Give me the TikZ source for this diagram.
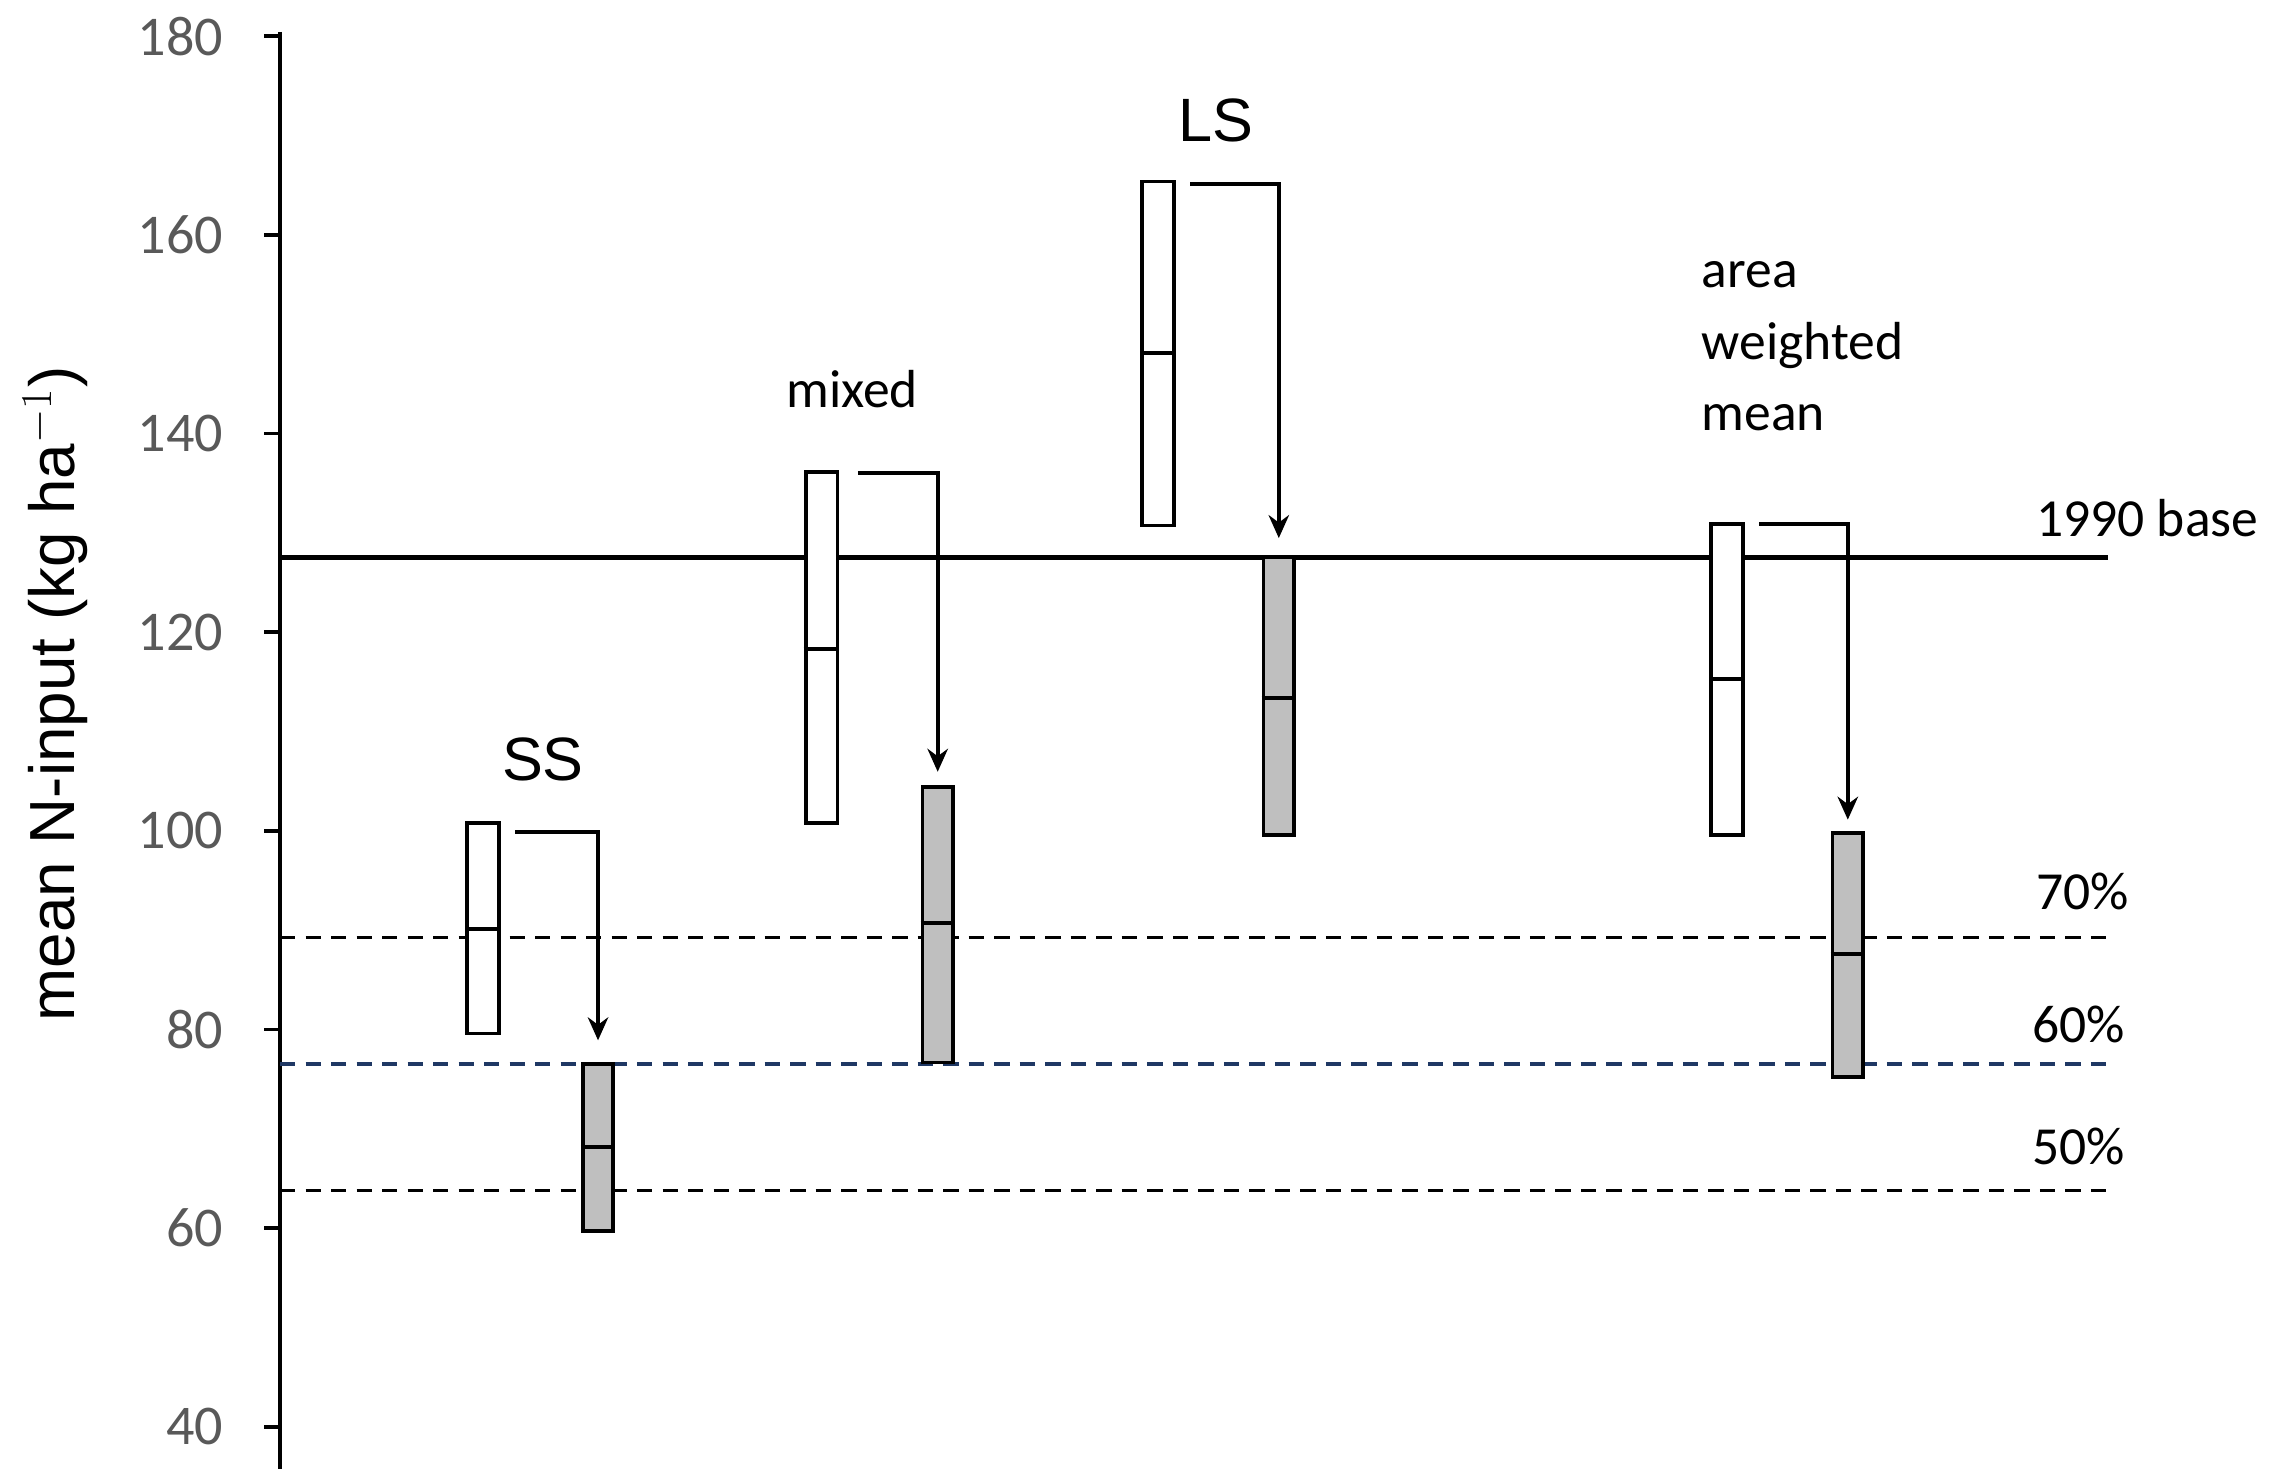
\documentclass[tikz,border=0pt]{standalone}
\usepackage{fontspec}
\setmainfont{Carlito}
\newfontfamily\arialf{Liberation Sans}
\usetikzlibrary{arrows.meta}
\begin{document}
\begin{tikzpicture}[x=0.02cm,y=-0.02cm,
  wbox/.style={draw,line width=1.5pt,fill=white,inner sep=0,minimum width=22*0.02cm},
  gbox/.style={draw,line width=1.5pt,fill=gray!50,inner sep=0,minimum width=21*0.02cm},
  arr/.style={line width=1.5pt,-{Stealth[length=9pt,width=8pt]}},
  tick/.style={gray!70!black,font=\fontsize{22}{24}\selectfont,anchor=east},
  lab/.style={font=\fontsize{21}{28}\selectfont,align=left}]
\useasboundingbox (0,0) rectangle (1568,1022);
% axis
\draw[line width=1.6pt] (193,22) -- (193,1012);
\foreach \v in {40,60,...,180}{
  \pgfmathsetmacro\yy{983-(\v-40)*6.843}
  \draw[line width=1.4pt] (182,\yy) -- (193,\yy);
  \node[tick] (t\v) at (160,\yy) {\v};
}
\node[rotate=90,font=\arialf\fontsize{25}{27}\selectfont] (ylab) at (38,478) {mean N-input (kg ha$^{-1}$)};
% reference lines
\draw[line width=1.9pt] (193,384) -- (1452,384);
\draw[line width=1.2pt,dash pattern=on 6pt off 4pt] (193,646) -- (1452,646);
\draw[line width=1.2pt,dash pattern=on 6pt off 4pt,color={rgb,255:red,31;green,56;blue,100}] (193,733) -- (1452,733);
\draw[line width=1.2pt,dash pattern=on 6pt off 4pt] (193,820) -- (1452,820);
\node[lab,anchor=east] (base) at (1562,357) {1990 base};
\node[lab] (p70) at (1435,614) {70\%};
\node[lab] (p60) at (1432,706) {60\%};
\node[lab] (p50) at (1432,790) {50\%};
\newcommand\mybox[6]{%
  \node[#2,minimum height={(#5-#4)*0.02cm}] (#1) at (#3,{(#4+#5)/2}) {};
  \draw[line width=1.5pt] (#1.west |- 0,#6) -- (#1.east |- 0,#6);}
\mybox{ssw}{wbox}{333}{567}{712}{640}
\mybox{ssg}{gbox}{412}{733}{848}{790}
\mybox{mxw}{wbox}{566}{325}{567}{447}
\mybox{mxg}{gbox}{646}{542}{732}{636}
\mybox{lsw}{wbox}{798}{125}{362}{243}
\mybox{lsg}{gbox}{881}{384}{575}{481}
\mybox{aww}{wbox}{1190}{361}{575}{468}
\mybox{awg}{gbox}{1273}{574}{742}{657}
% arrows
\coordinate (ssa) at (355,573); \draw[arr] (ssa) -| ([yshift=0.3cm]ssg.north);
\coordinate (mxa) at (591,326); \draw[arr] (mxa) -| ([yshift=0.18cm]mxg.north);
\coordinate (lsa) at (820,127); \draw[arr] (lsa) -| ([yshift=0.24cm]lsg.north);
\coordinate (awa) at (1212,361); \draw[arr] (awa) -| ([yshift=0.16cm]awg.north);
% labels
\node[font=\arialf\fontsize{24}{26}\selectfont] (ss) at (374,523) {SS};
\node[lab] (mx) at (587,268) {mixed};
\node[font=\arialf\fontsize{24}{26}\selectfont] (ls) at (838,83) {LS};
\node[lab,anchor=north west,inner sep=0] (aw) at (1172,180) {area\\weighted\\mean};
\end{tikzpicture}
\end{document}
